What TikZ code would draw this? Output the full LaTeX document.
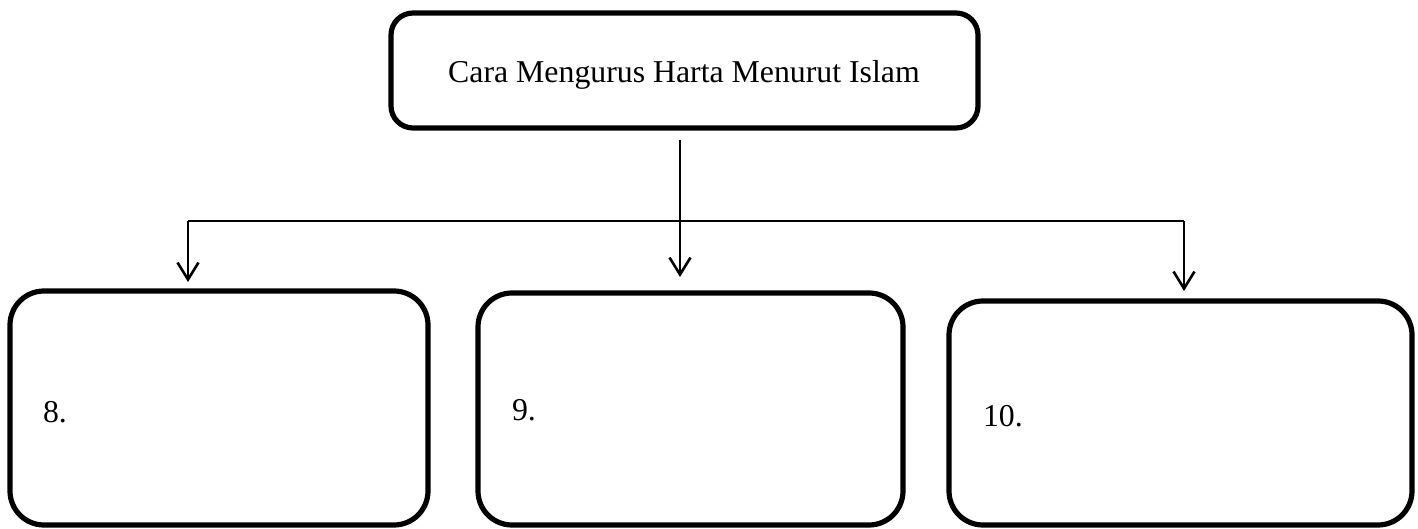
\documentclass[tikz,border=0pt]{standalone}
\usepackage{fontspec}
\setmainfont{Liberation Serif}
\usetikzlibrary{arrows.meta}

\begin{document}
\begin{tikzpicture}
  [x=0.5pt,y=-0.5pt,every node/.style={outer sep=0pt},
   box/.style={draw,line width=2.6pt,rounded corners=17pt},
   bar/.style={line width=1pt},
   arr/.style={line width=1.3pt,-{Straight Barb[length=8.5pt,width=10.5pt]}},
   num/.style={anchor=base west,inner sep=0pt,font=\fontsize{15.9}{19}\selectfont}]
  \useasboundingbox (0,0) rectangle (1418,529);
  \node[box,rounded corners=11pt,minimum width=293.5pt,minimum height=57.5pt,
        font=\fontsize{15.9}{19}\selectfont] (top) at (684.5,70.5) {};
  \node[num,anchor=base] (title) at (684,83) {Cara Mengurus Harta Menurut Islam};
  \node[box,minimum width=209pt,minimum height=117pt] (b8) at (219,408) {};
  \node[box,minimum width=212.5pt,minimum height=116pt] (b9) at (690.5,409) {};
  \node[box,minimum width=231.5pt,minimum height=112pt] (b10) at (1180.5,413) {};
  \node[num] (t8) at (43,422) {8.};
  \node[num] (t9) at (512,420) {9.};
  \node[num] (t10) at (983,426) {10.};
  \coordinate (jl) at (188,221);
  \coordinate (jm) at (680,221);
  \coordinate (jr) at (1184,221);
  \draw[bar] (jl) -- (jr);
  \draw[arr,shorten <=6pt,shorten >=8pt] (top.south -| jm) -- (b9.north -| jm);
  \draw[arr,shorten >=4.5pt] (jl) -- (b8.north -| jl);
  \draw[arr,shorten >=5pt] (jr) -- (b10.north -| jr);
\end{tikzpicture}
\end{document}
